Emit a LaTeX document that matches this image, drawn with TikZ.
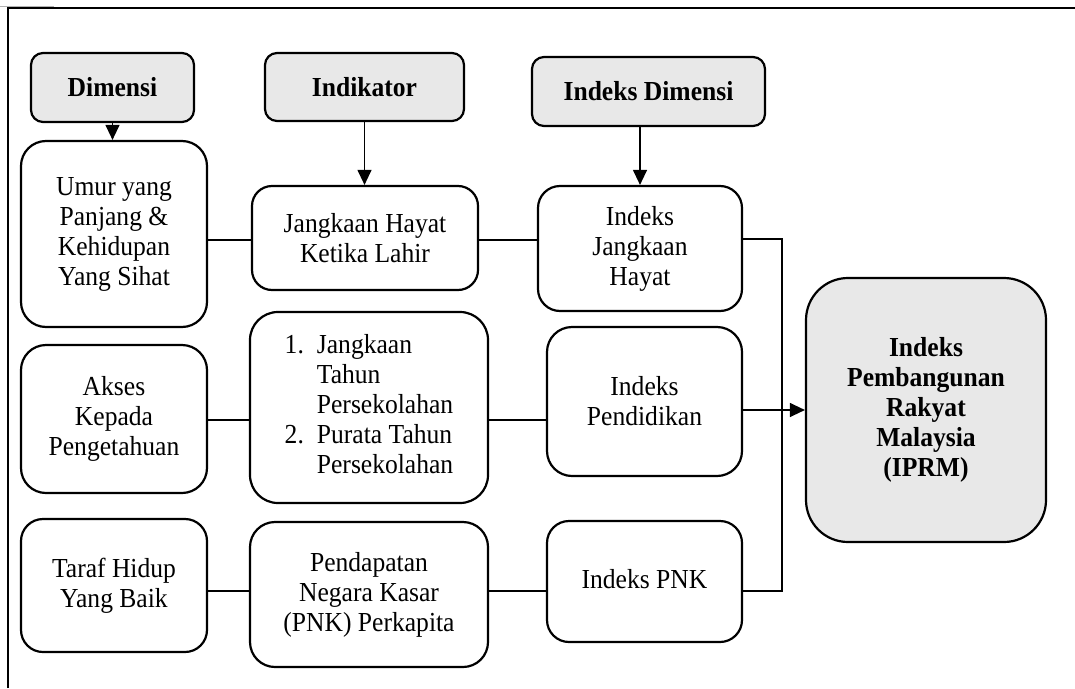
\documentclass[tikz,border=0pt]{standalone}
\usepackage{fontspec}
\setmainfont{Liberation Serif}[FakeStretch=0.93]
\usetikzlibrary{arrows.meta,calc}
\definecolor{hdrgray}{HTML}{E8E8E8}
\begin{document}
\begin{tikzpicture}[x=1pt,y=-1pt,
  every node/.style={font=\fontsize{27.5}{30}\selectfont, align=center, inner sep=0pt},
  box/.style={draw, line width=2.2pt, fill=white},
  hdr/.style={box, fill=hdrgray, font=\fontsize{27.5}{30}\selectfont\bfseries, rounded corners=12pt},
  conn/.style={line width=1.2pt},
  arr/.style={conn, -{Triangle[length=15pt,width=14pt]}}
]
\useasboundingbox (0,0) rectangle (1075,688);
% outer frame (cropped)
\draw[gray!60, line width=0.8pt] (0,6) -- (54,6);
\draw[line width=1.4pt] (8,688) -- (8,8) -- (1075,8);

% headers
\node[hdr, minimum width=163pt, minimum height=69pt] (dim) at (112.5,87.5) {Dimensi};
\node[hdr, minimum width=199pt, minimum height=68pt] (ind) at (364.5,87) {Indikator};
\node[hdr, minimum width=233pt, minimum height=69pt] (idim) at (648.5,91.5) {Indeks Dimensi};

% row 1
\node[box, rounded corners=25pt, minimum width=186pt, minimum height=186pt] (umur) at (114,234)
  {Umur yang\\Panjang \&\\Kehidupan\\Yang Sihat};
\node[box, rounded corners=20pt, minimum width=226pt, minimum height=104pt] (jh) at (365,238)
  {Jangkaan Hayat\\Ketika Lahir};
\node[box, rounded corners=22pt, minimum width=204pt, minimum height=125pt] (ijh) at (640,248.5)
  {Indeks\\Jangkaan\\Hayat};

% row 2
\node[box, rounded corners=25pt, minimum width=186pt, minimum height=148pt] (akses) at (114,419)
  {Akses\\Kepada\\Pengetahuan};
\node[box, rounded corners=28pt, minimum width=238pt, minimum height=191pt] (ind2) at (369,407.5)
  {\begin{tabular}{@{}l@{\hspace{13pt}}l@{}}
   1. & Jangkaan\\
      & Tahun\\
      & Persekolahan\\
   2. & Purata Tahun\\
      & Persekolahan
   \end{tabular}};
\node[box, rounded corners=25pt, minimum width=195pt, minimum height=149pt] (ipend) at (644.5,401.5)
  {Indeks\\Pendidikan};

% row 3
\node[box, rounded corners=22pt, minimum width=186pt, minimum height=133pt] (taraf) at (114,585.5)
  {Taraf Hidup\\Yang Baik};
\node[box, rounded corners=25pt, minimum width=238pt, minimum height=145pt] (pend) at (369,594.5)
  {Pendapatan\\Negara Kasar\\(PNK) Perkapita};
\node[box, rounded corners=22pt, minimum width=195pt, minimum height=121pt] (ipnk) at (644.5,581.5)
  {\raisebox{6pt}{Indeks PNK}};

% result
\node[box, fill=hdrgray, rounded corners=42pt, minimum width=240pt, minimum height=264pt,
      font=\fontsize{27.5}{30}\selectfont\bfseries] (iprm) at (926,410)
  {Indeks\\Pembangunan\\Rakyat\\Malaysia\\(IPRM)};

% header arrows
\draw[arr] (dim.south) -- (dim.south |- umur.north);
\draw[arr] (ind.south) -- (ind.south |- jh.north);
\draw[arr] (ijh.north |- idim.south) -- (ijh.north);

% horizontal links
\coordinate (r1) at (0,240);
\coordinate (r2) at (0,420);
\coordinate (r3) at (0,591);
\draw[conn] (umur.east |- r1) -- (jh.west |- r1);
\draw[conn] (jh.east |- r1) -- (ijh.west |- r1);
\draw[conn] (akses.east |- r2) -- (ind2.west |- r2);
\draw[conn] (ind2.east |- r2) -- (ipend.west |- r2);
\draw[conn] (taraf.east |- r3) -- (pend.west |- r3);
\draw[conn] (pend.east |- r3) -- (ipnk.west |- r3);

% bracket to IPRM
\coordinate (bt) at (782,239);
\coordinate (bb) at (782,591);
\draw[conn] (ijh.east |- bt) -- (bt) -- (bb) -- (ipnk.east |- bb);
\draw[arr] (iprm.west -| ipend.east) -- (iprm.west);
\end{tikzpicture}
\end{document}
